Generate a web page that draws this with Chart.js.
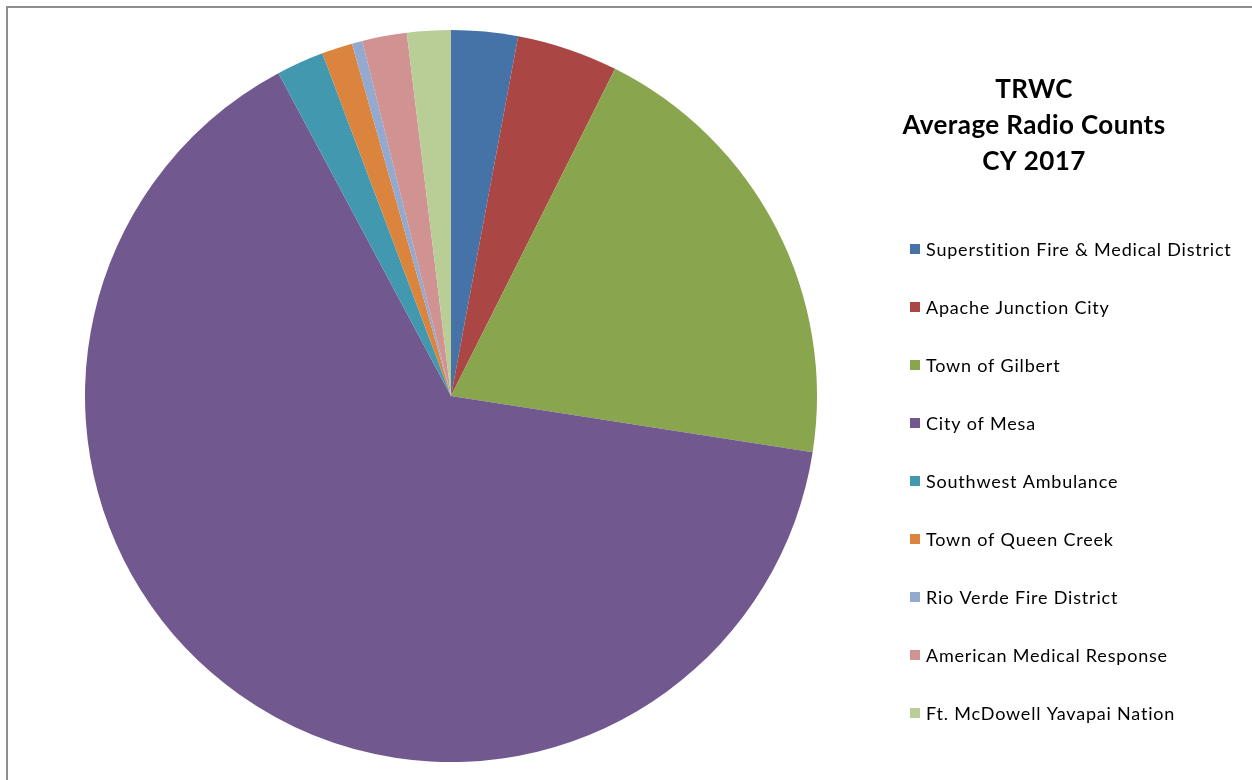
<!DOCTYPE html>
<html><head><meta charset="utf-8">
<script src="https://cdn.jsdelivr.net/npm/chart.js@4/dist/chart.umd.min.js"></script>
<style>html,body{margin:0;padding:0;background:#fff;}#wrap{width:1252px;height:780px;position:relative;}</style>
</head><body><div id="wrap"><canvas id="c" width="1252" height="780"></canvas></div>
<script>
const categories = ["Superstition Fire & Medical District","Apache Junction City","Town of Gilbert","City of Mesa","Southwest Ambulance","Town of Queen Creek","Rio Verde Fire District","American Medical Response","Ft. McDowell Yavapai Nation"];
const radioCounts = [294, 446, 2006, 6475, 210, 136, 46, 197, 193];
const sliceColors = ["#4572A7","#AA4643","#89A54E","#71588F","#4198AF","#DB843D","#93A9CF","#D19392","#B9CD96"];
const titleLines = ["TRWC","Average Radio Counts","CY 2017"];

const sidePlugin = {
  id: 'side',
  beforeDraw(chart){
    const ctx = chart.ctx;
    ctx.save();
    ctx.fillStyle = '#fff';
    ctx.fillRect(0,0,chart.width,chart.height);
    ctx.strokeStyle = '#8e8e8e';
    ctx.lineWidth = 2;
    ctx.beginPath();
    ctx.moveTo(7, chart.height);
    ctx.lineTo(7, 7);
    ctx.lineTo(chart.width, 7);
    ctx.stroke();
    ctx.restore();
  },
  afterDraw(chart){
    const ctx = chart.ctx;
    ctx.save();
    ctx.fillStyle = '#000';
    ctx.font = 'bold 26px Lato';
    ctx.letterSpacing = '0.4px';
    ctx.textAlign = 'center';
    ctx.textBaseline = 'middle';
    titleLines.forEach((t,i)=>ctx.fillText(t, 1034, 90 + i*36));
    ctx.font = '18px Lato';
    ctx.letterSpacing = '0.8px';
    ctx.textAlign = 'left';
    const labels = chart.data.labels;
    const colors = chart.data.datasets[0].backgroundColor;
    labels.forEach((l,i)=>{
      const y = 249 + i*58;
      ctx.fillStyle = colors[i];
      ctx.fillRect(910, y-5, 10, 10);
      ctx.fillStyle = '#000';
      ctx.fillText(l, 926, y+1);
    });
    ctx.restore();
  }
};

new Chart(document.getElementById('c'), {
  type: 'pie',
  data: {
    labels: categories,
    datasets: [{ data: radioCounts, backgroundColor: sliceColors, borderWidth: 0 }]
  },
  options: {
    responsive: false,
    animation: false,
    layout: { padding: { left: 85, top: 30, right: 435, bottom: 18 } },
    plugins: { legend: { display: false }, title: { display: false }, tooltip: { enabled: false } }
  },
  plugins: [sidePlugin]
});
</script></body></html>
